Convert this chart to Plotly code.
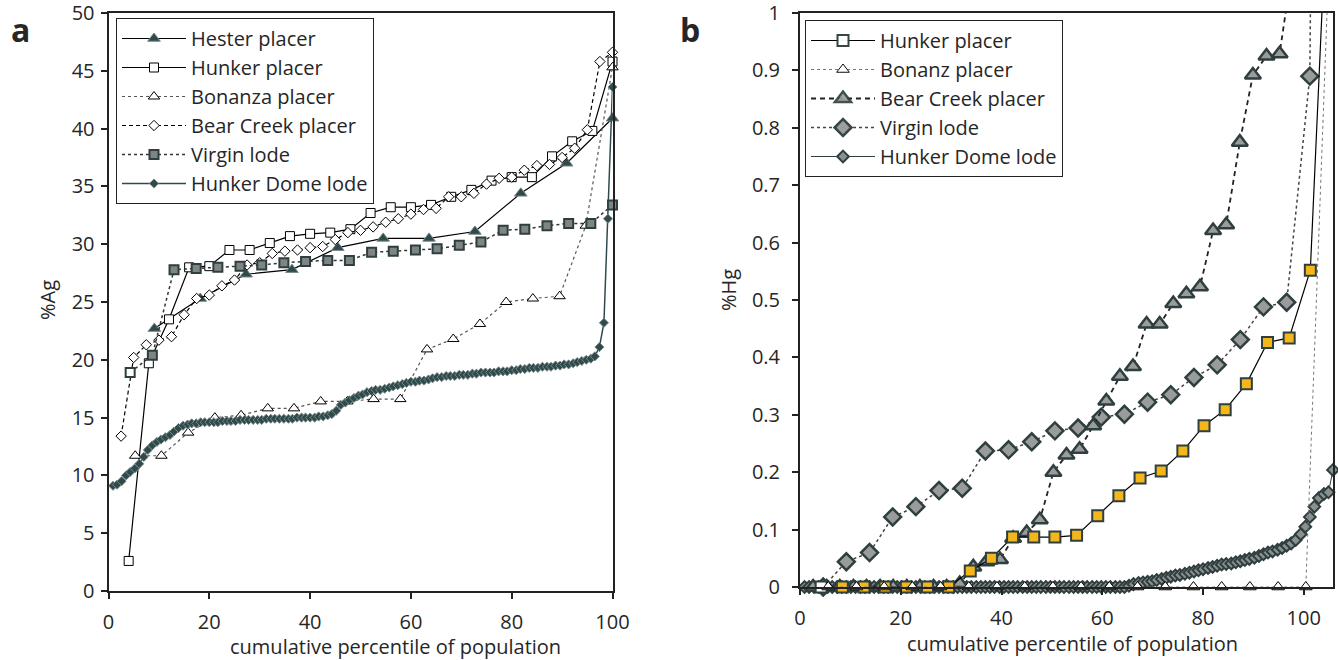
import plotly.graph_objects as go

# ---------------- Panel a : %Ag ----------------
hester_a_x = [9.1, 18.2, 27.3, 36.4, 45.5, 54.5, 63.6, 72.7, 81.8, 90.9, 100.0]
hester_a_y = [22.7, 25.3, 27.4, 27.8, 29.7, 30.5, 30.5, 31.1, 34.4, 37.0, 40.9]

hunker_a_x = [4, 8, 12, 16, 20, 24, 28, 32, 36, 40, 44, 48, 52, 56, 60, 64, 68, 72, 76, 80, 84, 88, 92, 96, 100]
hunker_a_y = [2.6, 19.7, 23.5, 28.0, 28.1, 29.5, 29.5, 30.1, 30.7, 30.9, 31.0, 31.3, 32.7, 33.2, 33.2,
              33.4, 34.1, 34.7, 35.5, 35.8, 35.8, 37.6, 38.9, 39.8, 45.8]

bonanza_a_x = [5.3, 10.5, 15.8, 21.1, 26.3, 31.6, 36.8, 42.1, 47.4, 52.6, 57.9, 63.2, 68.4, 73.7, 78.9,
               84.2, 89.5, 94.7, 100.0]
bonanza_a_y = [11.7, 11.7, 13.7, 15.0, 15.2, 15.8, 15.8, 16.4, 16.4, 16.6, 16.6, 20.9, 21.8, 23.1, 25.0,
               25.3, 25.5, 31.6, 45.3]

bear_a_x = [2.5, 5, 7.5, 10, 12.5, 15, 17.5, 20, 22.5, 25, 27.5, 30, 32.5, 35, 37.5, 40, 42.5, 45, 47.5, 50,
            52.5, 55, 57.5, 60, 62.5, 65, 67.5, 70, 72.5, 75, 77.5, 80, 82.5, 85, 87.5, 90, 92.5, 95, 97.5, 100]
bear_a_y = [13.4, 20.2, 21.3, 21.7, 22.0, 23.9, 25.3, 25.6, 26.4, 26.9, 28.2, 28.4, 29.2, 29.4, 29.5, 29.7,
            29.8, 30.4, 31.0, 31.2, 31.5, 31.9, 32.2, 32.6, 33.0, 33.1, 34.1, 34.1, 34.4, 35.2, 35.7, 35.8,
            36.4, 36.8, 36.9, 37.5, 38.3, 39.9, 45.8, 46.6]

virgin_a_x = [4.3, 8.7, 13.0, 17.4, 21.7, 26.1, 30.4, 34.8, 39.1, 43.5, 47.8, 52.2, 56.5, 60.9, 65.2, 69.6,
              73.9, 78.3, 82.6, 87.0, 91.3, 95.7, 100.0]
virgin_a_y = [18.9, 20.4, 27.8, 27.9, 28.0, 28.1, 28.2, 28.4, 28.5, 28.6, 28.6, 29.3, 29.4, 29.5, 29.6, 29.9,
              30.2, 31.2, 31.3, 31.6, 31.8, 31.8, 33.4]

lode_a_x = [0.9, 1.7, 2.6, 3.5, 4.3, 5.2, 6.1, 7.0, 7.8, 8.7,
            9.6, 10.4, 11.3, 12.2, 13.0, 13.9, 14.8, 15.7, 16.5, 17.4,
            18.3, 19.1, 20.0, 20.9, 21.7, 22.6, 23.5, 24.3, 25.2, 26.1,
            27.0, 27.8, 28.7, 29.6, 30.4, 31.3, 32.2, 33.0, 33.9, 34.8,
            35.7, 36.5, 37.4, 38.3, 39.1, 40.0, 40.9, 41.7, 42.6, 43.5,
            44.3, 45.2, 46.1, 47.0, 47.8, 48.7, 49.6, 50.4, 51.3, 52.2,
            53.0, 53.9, 54.8, 55.7, 56.5, 57.4, 58.3, 59.1, 60.0, 60.9,
            61.7, 62.6, 63.5, 64.3, 65.2, 66.1, 67.0, 67.8, 68.7, 69.6,
            70.4, 71.3, 72.2, 73.0, 73.9, 74.8, 75.7, 76.5, 77.4, 78.3,
            79.1, 80.0, 80.9, 81.7, 82.6, 83.5, 84.3, 85.2, 86.1, 87.0,
            87.8, 88.7, 89.6, 90.4, 91.3, 92.2, 93.0, 93.9, 94.8, 95.7,
            96.5, 97.4, 98.3, 99.1, 100.0]
lode_a_y = [9.1, 9.2, 9.5, 10.0, 10.3, 10.6, 11.0, 11.6, 12.2, 12.6,
            12.9, 13.1, 13.3, 13.5, 13.8, 14.1, 14.3, 14.4, 14.5, 14.5,
            14.6, 14.6, 14.6, 14.6, 14.6, 14.7, 14.7, 14.7, 14.7, 14.8,
            14.8, 14.8, 14.8, 14.8, 14.8, 14.9, 14.9, 14.9, 14.9, 14.9,
            14.9, 14.9, 15.0, 15.0, 15.0, 15.0, 15.0, 15.1, 15.1, 15.2,
            15.3, 15.6, 16.1, 16.3, 16.5, 16.7, 16.9, 17.0, 17.2, 17.3,
            17.4, 17.4, 17.5, 17.6, 17.7, 17.8, 17.9, 18.0, 18.1, 18.1,
            18.2, 18.2, 18.3, 18.4, 18.5, 18.5, 18.6, 18.6, 18.6, 18.7,
            18.7, 18.7, 18.8, 18.8, 18.9, 18.9, 18.9, 18.9, 19.0, 19.0,
            19.0, 19.1, 19.1, 19.2, 19.2, 19.3, 19.3, 19.3, 19.4, 19.4,
            19.4, 19.5, 19.5, 19.6, 19.6, 19.7, 19.8, 19.9, 20.0, 20.1,
            20.3, 21.1, 23.2, 32.2, 43.6]

# ---------------- Panel b : %Hg ----------------
hunker_b_x = [4.2, 8.4, 12.7, 16.9, 21.1, 25.3, 29.5, 33.8, 38.0, 42.2, 46.4, 50.6, 54.9, 59.1, 63.3, 67.5,
              71.7, 76.0, 80.2, 84.4, 88.6, 92.8, 97.1, 101.3, 105.5]
hunker_b_y = [0, 0, 0, 0, 0, 0, 0, 0.028, 0.050, 0.087, 0.087, 0.087, 0.090, 0.124, 0.159, 0.190, 0.202,
              0.237, 0.281, 0.309, 0.354, 0.426, 0.434, 0.552, 1.37]

bonanz_b_x = [5.6, 11.2, 16.7, 22.3, 27.9, 33.5, 39.1, 44.6, 50.2, 55.8, 61.4, 67.0, 72.5, 78.1, 83.7, 89.3,
              94.9, 100.4, 106.0]
bonanz_b_y = [0, 0, 0, 0, 0, 0, 0, 0, 0, 0, 0, 0, 0, 0, 0, 0, 0, 0, 1.33]

bear_b_x = [2.6, 5.3, 7.9, 10.6, 13.2, 15.9, 18.5, 21.2, 23.8, 26.5, 29.1, 31.7, 34.4, 37.0, 39.7, 42.3,
            45.0, 47.6, 50.3, 52.9, 55.5, 58.2, 60.8, 63.5, 66.1, 68.8, 71.4, 74.1, 76.7, 79.4, 82.0, 84.6,
            87.3, 89.9, 92.6, 95.2, 97.9, 100.5, 103.2, 105.8]
bear_b_y = [0, 0, 0, 0, 0, 0, 0, 0, 0, 0, 0, 0.006, 0.035, 0.044, 0.048, 0.085, 0.095, 0.117, 0.200, 0.230,
            0.240, 0.281, 0.324, 0.367, 0.384, 0.458, 0.458, 0.494, 0.511, 0.523, 0.621, 0.631, 0.775, 0.892,
            0.925, 0.929, 1.09, 1.3, 1.6, 2.0]

virgin_b_x = [4.6, 9.2, 13.8, 18.4, 23.0, 27.6, 32.2, 36.8, 41.4, 46.0, 50.6, 55.2, 59.8, 64.4, 69.0, 73.6,
              78.2, 82.8, 87.4, 92.0, 96.6, 101.2, 105.8]
virgin_b_y = [0.0, 0.044, 0.060, 0.122, 0.140, 0.168, 0.172, 0.237, 0.239, 0.253, 0.272, 0.277, 0.296, 0.301,
              0.322, 0.335, 0.365, 0.387, 0.431, 0.488, 0.496, 0.890, 5.5]

lode_b_x = [0.9, 1.8, 2.8, 3.7, 4.6, 5.5, 6.4, 7.4, 8.3, 9.2,
            10.1, 11.0, 12.0, 12.9, 13.8, 14.7, 15.6, 16.6, 17.5, 18.4,
            19.3, 20.2, 21.2, 22.1, 23.0, 23.9, 24.8, 25.8, 26.7, 27.6,
            28.5, 29.4, 30.4, 31.3, 32.2, 33.1, 34.0, 35.0, 35.9, 36.8,
            37.7, 38.6, 39.6, 40.5, 41.4, 42.3, 43.2, 44.2, 45.1, 46.0,
            46.9, 47.8, 48.8, 49.7, 50.6, 51.5, 52.4, 53.4, 54.3, 55.2,
            56.1, 57.0, 58.0, 58.9, 59.8, 60.7, 61.6, 62.6, 63.5, 64.4,
            65.3, 66.2, 67.2, 68.1, 69.0, 69.9, 70.8, 71.8, 72.7, 73.6,
            74.5, 75.4, 76.4, 77.3, 78.2, 79.1, 80.0, 81.0, 81.9, 82.8,
            83.7, 84.6, 85.6, 86.5, 87.4, 88.3, 89.2, 90.2, 91.1, 92.0,
            92.9, 93.8, 94.8, 95.7, 96.6, 97.5, 98.4, 99.4, 100.3, 101.2,
            102.1, 103.0, 104.0, 104.9, 105.8]
lode_b_y = [0, 0, 0, 0, 0, 0, 0, 0, 0, 0,
            0, 0, 0, 0, 0, 0, 0, 0, 0, 0,
            0, 0, 0, 0, 0, 0, 0, 0, 0, 0,
            0, 0, 0, 0, 0, 0, 0, 0, 0, 0,
            0, 0, 0, 0, 0, 0, 0, 0, 0, 0,
            0, 0, 0, 0, 0, 0, 0, 0, 0, 0,
            0, 0, 0, 0, 0, 0, 0, 0, 0, 0,
            0.002, 0.005, 0.007, 0.008, 0.009, 0.010, 0.012, 0.014, 0.016, 0.018,
            0.020, 0.021, 0.023, 0.025, 0.027, 0.029, 0.031, 0.033, 0.035, 0.037,
            0.039, 0.040, 0.041, 0.043, 0.045, 0.047, 0.049, 0.051, 0.054, 0.057,
            0.060, 0.062, 0.065, 0.068, 0.072, 0.076, 0.082, 0.092, 0.105, 0.122,
            0.140, 0.155, 0.162, 0.165, 0.204]

names_a = ["Hester placer", "Hunker placer", "Bonanza placer", "Bear Creek placer", "Virgin lode", "Hunker Dome lode"]
names_b = ["Hunker placer", "Bonanz placer", "Bear Creek placer", "Virgin lode", "Hunker Dome lode"]

xt_vals = [0, 20, 40, 60, 80, 100]
ya_vals = [0, 5, 10, 15, 20, 25, 30, 35, 40, 45, 50]
yb_vals = [0, 0.1, 0.2, 0.3, 0.4, 0.5, 0.6, 0.7, 0.8, 0.9, 1.0]
yb_text = ["0", "0.1", "0.2", "0.3", "0.4", "0.5", "0.6", "0.7", "0.8", "0.9", "1"]

DARK = "#2F3E3E"
GREY = "#9A9C9C"
YEL = "#F4B71B"
FONT = "Open Sans"
TXT = "#262626"

W, H = 1338, 660


def fx(sx):
    return sx / W


def fy(sy):
    return 1 - sy / H


def vis(ys, top):
    return [1 if y <= top else 0 for y in ys]


fig = go.Figure()

# panel a traces
fig.add_trace(go.Scatter(x=hester_a_x, y=hester_a_y, name=names_a[0], mode="lines+markers", legend="legend",
                         line=dict(color="black", width=1.2),
                         marker=dict(symbol="triangle-up", size=11, color="#2F4A4A", line=dict(color="#7A8888", width=1)),
                         cliponaxis=False, xaxis="x", yaxis="y"))
fig.add_trace(go.Scatter(x=hunker_a_x, y=hunker_a_y, name=names_a[1], mode="lines+markers", legend="legend",
                         line=dict(color="black", width=1.2),
                         marker=dict(symbol="square", size=9, color="white", line=dict(color="black", width=1)),
                         cliponaxis=False, xaxis="x", yaxis="y"))
fig.add_trace(go.Scatter(x=bonanza_a_x, y=bonanza_a_y, name=names_a[2], mode="lines+markers", legend="legend",
                         line=dict(color="#555555", width=1.2, dash="dot"),
                         marker=dict(symbol="triangle-up", size=10, color="white", line=dict(color="black", width=1)),
                         cliponaxis=False, xaxis="x", yaxis="y"))
fig.add_trace(go.Scatter(x=bear_a_x, y=bear_a_y, name=names_a[3], mode="lines+markers", legend="legend",
                         line=dict(color="black", width=1.2, dash="4px,3px"),
                         marker=dict(symbol="diamond", size=8, color="white", line=dict(color="black", width=1)),
                         cliponaxis=False, xaxis="x", yaxis="y"))
# drawn from the last point back to the first so the legend swatch takes the grey fill
va_colors = ["#7F8585"] * (len(virgin_a_y) - 1) + ["white"]
fig.add_trace(go.Scatter(x=virgin_a_x[::-1], y=virgin_a_y[::-1], name=names_a[4], mode="lines+markers",
                         legend="legend",
                         line=dict(color="#333333", width=1.5, dash="dot"),
                         marker=dict(symbol="square", size=9, color=va_colors, line=dict(color=DARK, width=2)),
                         cliponaxis=False, xaxis="x", yaxis="y"))
fig.add_trace(go.Scatter(x=lode_a_x, y=lode_a_y, name=names_a[5], mode="lines+markers", legend="legend",
                         line=dict(color="#2F4A4A", width=1.5),
                         marker=dict(symbol="diamond", size=7, color="#2F4A4A", line=dict(color="#7A8888", width=1)),
                         cliponaxis=False, xaxis="x", yaxis="y"))

# panel b traces (drawn bottom-up; legendrank keeps the legend order)
fig.add_trace(go.Scatter(x=lode_b_x, y=lode_b_y, name=names_b[4], mode="lines+markers", legend="legend2",
                         legendrank=5,
                         line=dict(color=DARK, width=1),
                         marker=dict(symbol="diamond", size=9, color="#8A9090", line=dict(color=DARK, width=2)),
                         cliponaxis=False, xaxis="x2", yaxis="y2"))
fig.add_trace(go.Scatter(x=virgin_b_x, y=virgin_b_y, name=names_b[3], mode="lines+markers", legend="legend2",
                         legendrank=4,
                         line=dict(color="#444444", width=1.5, dash="dot"),
                         marker=dict(symbol="diamond", size=13, color=GREY, opacity=vis(virgin_b_y, 1.0),
                                     line=dict(color=DARK, width=2.5)),
                         cliponaxis=False, xaxis="x2", yaxis="y2"))
fig.add_trace(go.Scatter(x=bear_b_x, y=bear_b_y, name=names_b[2], mode="lines+markers", legend="legend2",
                         legendrank=3,
                         line=dict(color="#222222", width=1.8, dash="5px,4px"),
                         marker=dict(symbol="triangle-up", size=14, color=GREY, opacity=vis(bear_b_y, 1.0),
                                     line=dict(color=DARK, width=2.5)),
                         cliponaxis=False, xaxis="x2", yaxis="y2"))
hb_colors = ["white"] + [YEL] * (len(hunker_b_y) - 1)
fig.add_trace(go.Scatter(x=hunker_b_x, y=hunker_b_y, name=names_b[0], mode="lines+markers", legend="legend2",
                         legendrank=1,
                         line=dict(color="black", width=1.2),
                         marker=dict(symbol="square", size=11, color=hb_colors, opacity=vis(hunker_b_y, 1.0),
                                     line=dict(color=DARK, width=2)),
                         cliponaxis=False, xaxis="x2", yaxis="y2"))
fig.add_trace(go.Scatter(x=bonanz_b_x, y=bonanz_b_y, name=names_b[1], mode="lines+markers", legend="legend2",
                         legendrank=2,
                         line=dict(color="#777777", width=1, dash="dot"),
                         marker=dict(symbol="triangle-up", size=11, color="white", opacity=vis(bonanz_b_y, 1.0),
                                     line=dict(color="black", width=1)),
                         cliponaxis=False, xaxis="x2", yaxis="y2"))

axis_common = dict(showline=True, linecolor="#222222", linewidth=2, mirror=True, ticks="outside",
                   ticklen=6, tickwidth=1.5, tickcolor="#222222", showgrid=False, zeroline=False,
                   automargin=False, ticklabeloverflow="allow",
                   tickfont=dict(family=FONT, size=20, color=TXT))

legend_common = dict(xanchor="left", yanchor="top", bgcolor="white", bordercolor="#222222", borderwidth=1,
                     font=dict(family=FONT, size=20, color=TXT), itemwidth=64, tracegroupgap=0)

fig.update_layout(
    width=W, height=H, margin=dict(l=0, r=0, t=0, b=0, autoexpand=False),
    plot_bgcolor="white", paper_bgcolor="white",
    xaxis=dict(domain=[fx(108.5), fx(612.5)], range=[0, 100], tickvals=xt_vals, anchor="y",
               ticklabelstandoff=6, **axis_common),
    yaxis=dict(domain=[fy(591), fy(13)], range=[0, 50], tickvals=ya_vals, anchor="x",
               ticklabelstandoff=2, **axis_common),
    xaxis2=dict(domain=[fx(800), fx(1333)], range=[0, 105.8], tickvals=xt_vals, anchor="y2",
                ticklabelstandoff=6, **axis_common),
    yaxis2=dict(domain=[fy(587), fy(13)], range=[0, 1], tickvals=yb_vals, ticktext=yb_text,
                anchor="x2", ticklabelstandoff=8, **axis_common),
    legend=dict(x=fx(116), y=fy(18), **legend_common),
    legend2=dict(x=fx(805), y=fy(20), **legend_common),
    showlegend=True,
)

ann_font = dict(family=FONT, size=20, color=TXT)
fig.add_annotation(text="a", x=fx(20), y=fy(30), xref="paper", yref="paper", showarrow=False,
                   font=dict(family=FONT, size=32, color=TXT, weight="bold"), xanchor="center", yanchor="middle")
fig.add_annotation(text="b", x=fx(690), y=fy(30), xref="paper", yref="paper", showarrow=False,
                   font=dict(family=FONT, size=32, color=TXT, weight="bold"), xanchor="center", yanchor="middle")
fig.add_annotation(text="cumulative percentile of population", x=fx(395), y=fy(646), xref="paper",
                   yref="paper", showarrow=False, font=ann_font, xanchor="center", yanchor="middle")
fig.add_annotation(text="cumulative percentile of population", x=fx(1072), y=fy(643), xref="paper",
                   yref="paper", showarrow=False, font=ann_font, xanchor="center", yanchor="middle")
fig.add_annotation(text="%Ag", x=fx(47), y=fy(300), xref="paper", yref="paper", showarrow=False,
                   font=ann_font, textangle=-90, xanchor="center", yanchor="middle")
fig.add_annotation(text="%Hg", x=fx(728), y=fy(290), xref="paper", yref="paper", showarrow=False,
                   font=ann_font, textangle=-90, xanchor="center", yanchor="middle")

# remove the default page margin so the 1338x660 figure fills the window exactly
fig.write_html("out.html", config={"displayModeBar": False},
               post_script="document.body.style.margin='0';document.body.style.overflow='hidden';")
